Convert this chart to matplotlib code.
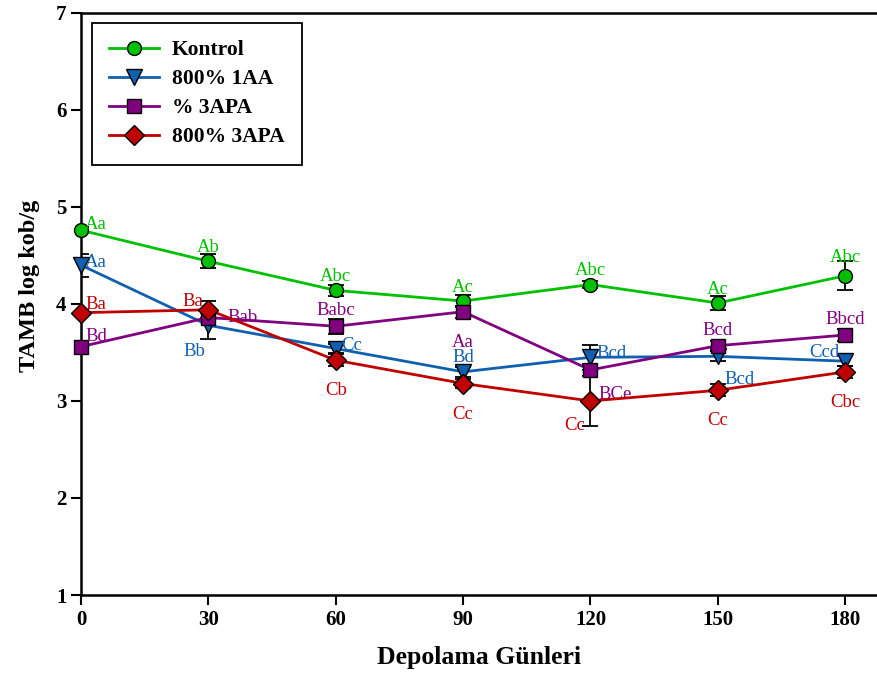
import matplotlib
matplotlib.use("Agg")
import matplotlib.pyplot as plt

days = [0, 30, 60, 90, 120, 150, 180]

kontrol = [4.76, 4.44, 4.14, 4.03, 4.20, 4.01, 4.29]
kontrol_err = [0.03, 0.07, 0.06, 0.06, 0.04, 0.07, 0.15]
aa1 = [4.40, 3.78, 3.54, 3.30, 3.45, 3.46, 3.41]
aa1_err = [0.12, 0.14, 0.05, 0.05, 0.13, 0.05, 0.05]
apa3 = [3.56, 3.86, 3.77, 3.92, 3.32, 3.57, 3.68]
apa3_err = [0.05, 0.05, 0.08, 0.06, 0.06, 0.05, 0.06]
apa800 = [3.91, 3.94, 3.42, 3.18, 3.00, 3.11, 3.30]
apa800_err = [0.03, 0.09, 0.06, 0.05, 0.26, 0.06, 0.06]

kontrol_lbl = ["Aa", "Ab", "Abc", "Ac", "Abc", "Ac", "Abc"]
aa1_lbl = ["Aa", "Bb", "Cc", "Bd", "Bcd", "Bcd", "Ccd"]
apa3_lbl = ["Bd", "Bab", "Babc", "Aa", "BCe", "Bcd", "Bbcd"]
apa800_lbl = ["Ba", "Ba", "Cb", "Cc", "Cc", "Cc", "Cbc"]

series = [
    ("Kontrol", kontrol, kontrol_err, kontrol_lbl, "#00c000", "o", 10,
     [(3, 4, "left"), (0, 10, "center"), (0, 10, "center"), (0, 10, "center"), (0, 10, "center"), (0, 10, "center"), (0, 13, "center")]),
    ("800% 1AA", aa1, aa1_err, aa1_lbl, "#1060b0", "v", 11,
     [(3, 2, "left"), (-2, -19, "right"), (4, 2, "left"), (0, 10, "center"), (4, 3, "left"), (5, -17, "left"), (-4, 6, "right")]),
    ("% 3APA", apa3, apa3_err, apa3_lbl, "#800080", "s", 10,
     [(3, 7, "left"), (14, 0, "left"), (0, 11, "center"), (0, -22, "center"), (6, -18, "left"), (0, 11, "center"), (0, 11, "center")]),
    ("800% 3APA", apa800, apa800_err, apa800_lbl, "#c00000", "D", 10,
     [(3, 6, "left"), (-4, 6, "right"), (0, -22, "center"), (0, -22, "center"), (-4, -18, "right"), (0, -22, "center"), (0, -22, "center")]),
]

serif = ["Liberation Serif", "DejaVu Serif"]

fig = plt.figure(figsize=(8.77, 6.79), dpi=100)
ax = fig.add_axes([0.0924, 0.1237, 0.9076, 0.8573])

for name, vals, errs, lbls, color, marker, msize, offs in series:
    ax.errorbar(days, vals, yerr=errs, fmt="none", ecolor="black", elinewidth=1.3,
                capsize=6, capthick=1.3, zorder=2)
    ax.plot(days, vals, color=color, linewidth=2, marker=marker, markersize=msize,
            markerfacecolor=color, markeredgecolor="black", markeredgewidth=1,
            label=name, zorder=3, clip_on=False)
    for x, y, t, (dx, dy, ha) in zip(days, vals, lbls, offs):
        ax.annotate(t, (x, y), xytext=(dx, dy), textcoords="offset points",
                    ha=ha, va="center", color=color, fontsize=13.5, family=serif)

ax.set_xlim(0, 187.5)
ax.set_ylim(1, 7)
ax.set_xticks(days)
ax.set_yticks([1, 2, 3, 4, 5, 6, 7])
ax.tick_params(direction="out", length=7, width=1.5, labelsize=15)
for lab in ax.get_xticklabels() + ax.get_yticklabels():
    lab.set_family(serif)
    lab.set_fontweight("bold")
for sp in ax.spines.values():
    sp.set_linewidth(1.8)
ax.spines["right"].set_visible(False)

ax.set_xlabel("Depolama Günleri", fontsize=18.5, fontweight="bold", family=serif, labelpad=12)
ax.set_ylabel("TAMB log kob/g", fontsize=17.5, fontweight="bold", family=serif)
ax.yaxis.set_label_coords(-0.052, 0.531)

leg = ax.legend(loc="upper left", bbox_to_anchor=(0.0138, 0.983), borderaxespad=0,
                fancybox=False, edgecolor="black", framealpha=1, borderpad=0.8,
                labelspacing=0.42, handlelength=2.3, handletextpad=0.6,
                prop={"family": serif, "weight": "bold", "size": 15.5})
leg.get_frame().set_linewidth(1.3)

fig.savefig("out.png", dpi=100)
